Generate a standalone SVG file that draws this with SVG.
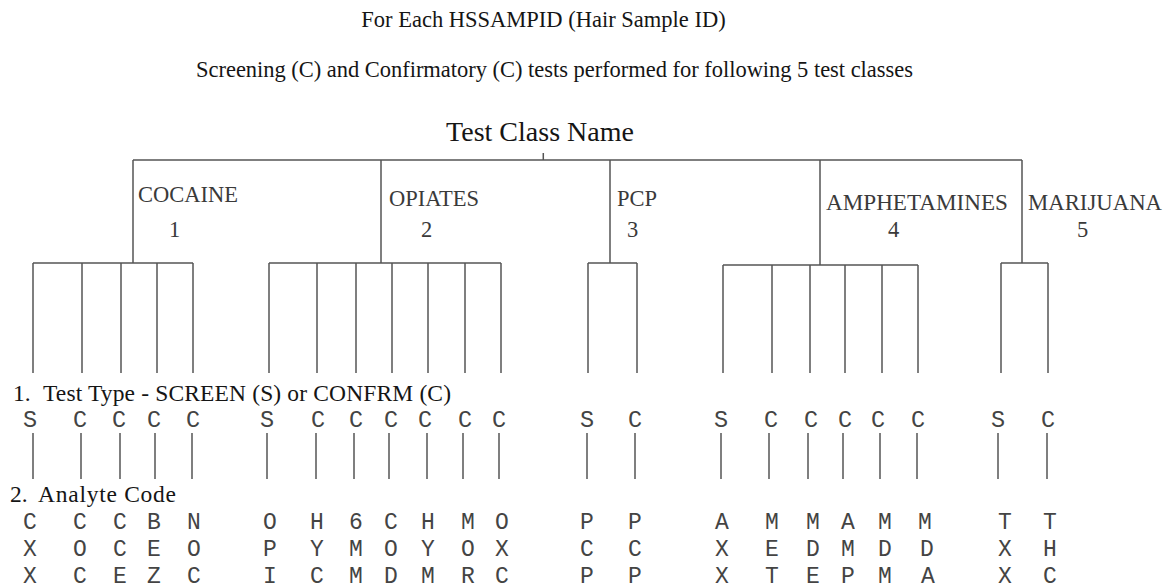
<svg xmlns="http://www.w3.org/2000/svg" width="1168" height="588" viewBox="0 0 1168 588">
<style>
.title{font-family:"Liberation Serif","Times New Roman",serif;font-size:22.5px;fill:#151515}
.root{font-family:"Liberation Serif","Times New Roman",serif;font-size:28px;fill:#151515}
.cls{font-family:"Liberation Serif","Times New Roman",serif;font-size:22.5px;fill:#3a3a3a}
.hdr{font-family:"Liberation Serif","Times New Roman",serif;font-size:23.5px;fill:#151515}
.tt{font-family:"Liberation Mono","Courier New",monospace;font-size:23.5px;fill:#444;text-anchor:middle}
.ac{font-family:"Liberation Mono","Courier New",monospace;font-size:23px;fill:#444;text-anchor:middle}
.ln{stroke:#555;stroke-width:1.5;fill:none}
</style>
<rect width="1168" height="588" fill="#fff"/>
<g id="header">
<text class="title" x="543.5" y="27" text-anchor="middle">For Each HSSAMPID (Hair Sample ID)</text>
<text class="title" x="196" y="77" textLength="717" lengthAdjust="spacing">Screening (C) and Confirmatory (C) tests performed for following 5 test classes</text>
</g>
<g id="root"><text class="root" x="540" y="141" text-anchor="middle">Test Class Name</text></g>
<g id="class-cocaine"><text class="cls" x="138" y="202">COCAINE</text><text class="cls" x="169" y="237">1</text></g>
<g id="class-opiates"><text class="cls" x="389" y="206">OPIATES</text><text class="cls" x="421" y="237">2</text></g>
<g id="class-pcp"><text class="cls" x="617" y="206">PCP</text><text class="cls" x="627" y="237">3</text></g>
<g id="class-amphetamines"><text class="cls" x="826" y="210" textLength="182" lengthAdjust="spacingAndGlyphs">AMPHETAMINES</text><text class="cls" x="888" y="237">4</text></g>
<g id="class-marijuana"><text class="cls" x="1028" y="210" textLength="134" lengthAdjust="spacingAndGlyphs">MARIJUANA</text><text class="cls" x="1077" y="237">5</text></g>
<g id="legend">
<text class="hdr" x="13" y="401">1.</text><text class="hdr" x="43" y="401" textLength="408" lengthAdjust="spacing">Test Type - SCREEN (S) or CONFRM (C)</text>
<text class="hdr" x="10" y="502">2.</text><text class="hdr" x="38" y="502" textLength="138" lengthAdjust="spacing">Analyte Code</text>
</g>
<g id="connectors" class="ln">
<path d="M543.3 153V160M133 160H1022M133 160V263M381 160V263M610 160V263M820 160V265M1022 160V263"/>
<path d="M33 263H193M33 263V373M82 263V373M121 263V373M157 263V373M193 263V373"/>
<path d="M269 263H501M269 263V373M317 263V373M356 263V373M392 263V373M428 263V373M465 263V373M501 263V373"/>
<path d="M588 263H637M588 263V373M637 263V373"/>
<path d="M723 265H918M723 265V373M772 265V373M810 265V373M845 265V373M882 265V373M918 265V373"/>
<path d="M1001 263H1048M1001 263V373M1048 263V373"/>
<path d="M33 433V479M81 433V479M120 433V479M155 433V479M192 433V479M267 433V479M316 433V479M354 433V479M389 433V479M427 433V479M463 433V479M499 433V479M587 433V479M635 433V479M721 433V479M769 433V479M808 433V479M843 433V479M880 433V479M917 433V479M998 433V479M1047 433V479"/>
</g>
<g id="leaf-1"><text class="tt" x="30" y="427">S</text><text class="ac" x="30" y="529">C</text><text class="ac" x="30" y="556">X</text><text class="ac" x="30" y="583">X</text></g>
<g id="leaf-2"><text class="tt" x="80" y="427">C</text><text class="ac" x="80" y="529">C</text><text class="ac" x="80" y="556">O</text><text class="ac" x="80" y="583">C</text></g>
<g id="leaf-3"><text class="tt" x="119" y="427">C</text><text class="ac" x="120" y="529">C</text><text class="ac" x="120" y="556">C</text><text class="ac" x="120" y="583">E</text></g>
<g id="leaf-4"><text class="tt" x="154" y="427">C</text><text class="ac" x="154" y="529">B</text><text class="ac" x="154" y="556">E</text><text class="ac" x="154" y="583">Z</text></g>
<g id="leaf-5"><text class="tt" x="193" y="427">C</text><text class="ac" x="194" y="529">N</text><text class="ac" x="194" y="556">O</text><text class="ac" x="194" y="583">C</text></g>
<g id="leaf-6"><text class="tt" x="267" y="427">S</text><text class="ac" x="270" y="529">O</text><text class="ac" x="270" y="556">P</text><text class="ac" x="270" y="583">I</text></g>
<g id="leaf-7"><text class="tt" x="318" y="427">C</text><text class="ac" x="317" y="529">H</text><text class="ac" x="317" y="556">Y</text><text class="ac" x="317" y="583">C</text></g>
<g id="leaf-8"><text class="tt" x="356" y="427">C</text><text class="ac" x="356" y="529">6</text><text class="ac" x="356" y="556">M</text><text class="ac" x="356" y="583">M</text></g>
<g id="leaf-9"><text class="tt" x="391" y="427">C</text><text class="ac" x="391" y="529">C</text><text class="ac" x="391" y="556">O</text><text class="ac" x="391" y="583">D</text></g>
<g id="leaf-10"><text class="tt" x="425" y="427">C</text><text class="ac" x="428" y="529">H</text><text class="ac" x="428" y="556">Y</text><text class="ac" x="428" y="583">M</text></g>
<g id="leaf-11"><text class="tt" x="465" y="427">C</text><text class="ac" x="468" y="529">M</text><text class="ac" x="468" y="556">O</text><text class="ac" x="468" y="583">R</text></g>
<g id="leaf-12"><text class="tt" x="499" y="427">C</text><text class="ac" x="502" y="529">O</text><text class="ac" x="502" y="556">X</text><text class="ac" x="502" y="583">C</text></g>
<g id="leaf-13"><text class="tt" x="587" y="427">S</text><text class="ac" x="587" y="529">P</text><text class="ac" x="587" y="556">C</text><text class="ac" x="587" y="583">P</text></g>
<g id="leaf-14"><text class="tt" x="635" y="427">C</text><text class="ac" x="635" y="529">P</text><text class="ac" x="635" y="556">C</text><text class="ac" x="635" y="583">P</text></g>
<g id="leaf-15"><text class="tt" x="721" y="427">S</text><text class="ac" x="722" y="529">A</text><text class="ac" x="722" y="556">X</text><text class="ac" x="722" y="583">X</text></g>
<g id="leaf-16"><text class="tt" x="771" y="427">C</text><text class="ac" x="772" y="529">M</text><text class="ac" x="772" y="556">E</text><text class="ac" x="772" y="583">T</text></g>
<g id="leaf-17"><text class="tt" x="811" y="427">C</text><text class="ac" x="813" y="529">M</text><text class="ac" x="813" y="556">D</text><text class="ac" x="813" y="583">E</text></g>
<g id="leaf-18"><text class="tt" x="845" y="427">C</text><text class="ac" x="848" y="529">A</text><text class="ac" x="848" y="556">M</text><text class="ac" x="848" y="583">P</text></g>
<g id="leaf-19"><text class="tt" x="878" y="427">C</text><text class="ac" x="885" y="529">M</text><text class="ac" x="885" y="556">D</text><text class="ac" x="885" y="583">M</text></g>
<g id="leaf-20"><text class="tt" x="918" y="427">C</text><text class="ac" x="925" y="529">M</text><text class="ac" x="927" y="556">D</text><text class="ac" x="928" y="583">A</text></g>
<g id="leaf-21"><text class="tt" x="998" y="427">S</text><text class="ac" x="1005" y="529">T</text><text class="ac" x="1005" y="556">X</text><text class="ac" x="1005" y="583">X</text></g>
<g id="leaf-22"><text class="tt" x="1048" y="427">C</text><text class="ac" x="1050" y="529">T</text><text class="ac" x="1050" y="556">H</text><text class="ac" x="1050" y="583">C</text></g>
</svg>
